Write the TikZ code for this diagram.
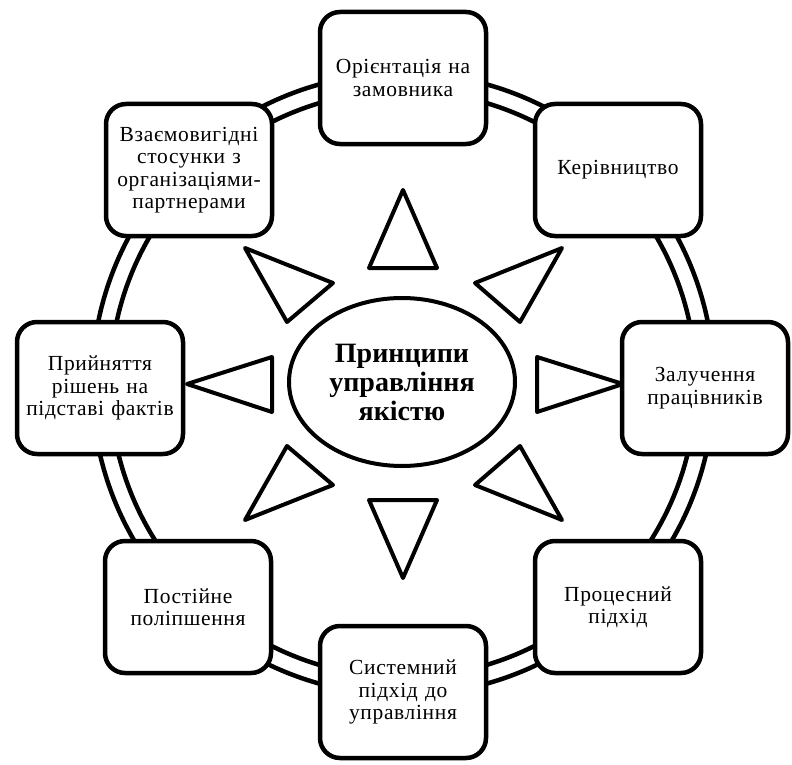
\documentclass[tikz,border=0pt]{standalone}
\usepackage{fontspec}
\setmainfont{Liberation Serif}
\newfontfamily\boxfont[LetterSpace=3]{Liberation Serif}
\usetikzlibrary{shapes.geometric}
\begin{document}
\begin{tikzpicture}[x=1pt,y=-1pt,
  box/.style={draw, line width=4.5pt, rounded corners=20pt, fill=white,
    minimum width=166pt, minimum height=132pt, align=center,
    text width=162pt, inner sep=2pt, font=\boxfont\fontsize{21.5}{22.5}\selectfont},
  ray/.style={draw, line width=4pt, fill=white, line join=round},
  ring/.style={line width=4.5pt},
  core/.style={draw, ellipse, line width=4pt, fill=white,
    minimum width=226pt, minimum height=168pt, inner sep=0pt, align=center,
    font=\fontsize{28}{29}\selectfont\bfseries}]
\useasboundingbox (0,0) rectangle (792,765);
\coordinate (c) at (403,384);
\draw[ring] (c) circle[radius=293pt];
\draw[ring] (c) circle[radius=311pt];

% rays
\draw[ray] (403,190) -- (437,268) -- (369,268) -- cycle;
\draw[ray] (403,578) -- (437,500) -- (369,500) -- cycle;
\draw[ray] (187,384) -- (272,357) -- (272,412) -- cycle;
\draw[ray] (623,384) -- (537,357) -- (537,412) -- cycle;
\draw[ray] (562,248) -- (475,283) -- (520,322) -- cycle;
\draw[ray] (245,248) -- (333,283) -- (287,322) -- cycle;
\draw[ray] (562,520) -- (475,485) -- (520,446) -- cycle;
\draw[ray] (245,520) -- (333,485) -- (287,446) -- cycle;

\node[core] (core) at (402,382) {Принципи\\управління\\якістю};

\node[box] (b1) at (403,78) {Орієнтація на\\замовника};
\node[box] (b2) at (618,170) {Керівництво};
\node[box] (b3) at (705,388) {Залучення\\працівників};
\node[box] (b4) at (618,607) {Процесний\\підхід};
\node[box] (b5) at (403,692) {Системний\\підхід до\\управління};
\node[box] (b6) at (188,607) {Постійне\\поліпшення};
\node[box] (b7) at (100,388) {Прийняття\\рішень на\\підставі фактів};
\node[box] (b8) at (189,170) {Взаємовигідні\\стосунки з\\організаціями-\\партнерами};
\end{tikzpicture}
\end{document}
